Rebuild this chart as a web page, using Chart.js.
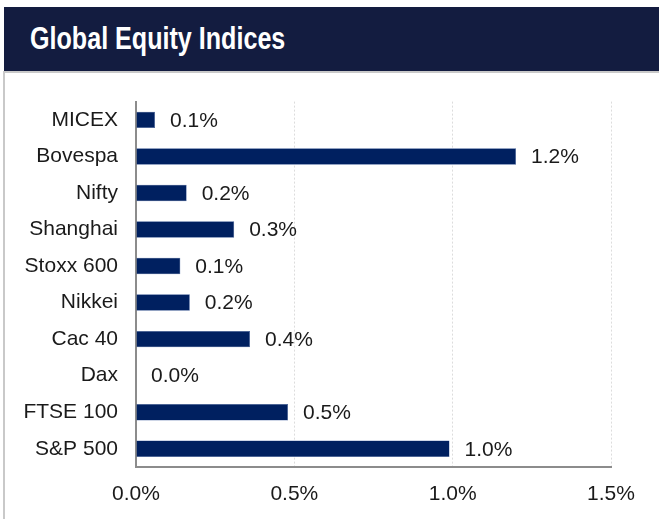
<!DOCTYPE html>
<html>
<head>
<meta charset="utf-8">
<script src="https://cdn.jsdelivr.net/npm/chart.js@4.4.1/dist/chart.umd.min.js"></script>
<style>
    body { margin: 0; background: #fff; font-family: 'Liberation Sans', Arial, sans-serif; }
    #header {
        position: absolute; left: 4px; top: 7px; width: 655px; height: 64px;
        background: #131c40;
    }
    #header span {
        position: absolute; left: 26px; top: 15px;
        color: #fff; font-weight: bold; font-size: 31px; line-height: 34px;
        transform: scaleX(0.81); transform-origin: left top; white-space: nowrap;
    }
    #frame {
        position: absolute; left: 3px; top: 71px; width: 656px; height: 448px;
        border-left: 2px solid #c9c9c9; border-top: 2px solid #c9c9c9; box-sizing: border-box;
    }
    #wrap { position: absolute; left: 0; top: 71px; width: 659px; height: 448px; }
</style>
</head>
<body>
<div id="header"><span>Global Equity Indices</span></div>
<div id="frame"></div>
<div id="wrap"><canvas id="chart"></canvas></div>
<script>
const indices = ['MICEX', 'Bovespa', 'Nifty', 'Shanghai', 'Stoxx 600', 'Nikkei', 'Cac 40', 'Dax', 'FTSE 100', 'S&P 500'];
const changes = [0.06, 1.2, 0.16, 0.31, 0.14, 0.17, 0.36, 0.0, 0.48, 0.99];
const xTicks = [0, 0.5, 1.0, 1.5];

const fontFamily = "'Liberation Sans', Arial, sans-serif";

// value labels to the right of each bar
const barLabels = {
    id: 'barLabels',
    afterDatasetsDraw(chart) {
        const ctx = chart.ctx;
        const meta = chart.getDatasetMeta(0);
        ctx.save();
        ctx.font = '21px ' + fontFamily;
        ctx.fillStyle = '#1a1a1a';
        ctx.textAlign = 'left';
        ctx.textBaseline = 'middle';
        meta.data.forEach(function (bar, i) {
            ctx.fillText(changes[i].toFixed(1) + '%', bar.x + 15, bar.y + 1);
        });
        ctx.restore();
    }
};

new Chart(document.getElementById('chart'), {
    type: 'bar',
    data: {
        labels: indices,
        datasets: [{
            data: changes,
            backgroundColor: '#002060',
            borderColor: '#3a5a9a',
            borderWidth: 0.5,
            categoryPercentage: 1,
            barPercentage: 0.45
        }]
    },
    options: {
        indexAxis: 'y',
        responsive: true,
        maintainAspectRatio: false,
        animation: false,
        layout: { padding: { left: 0, right: 48, top: 29, bottom: 0 } },
        plugins: {
            legend: { display: false },
            tooltip: { enabled: false }
        },
        scales: {
            x: {
                min: 0,
                max: 1.5,
                afterBuildTicks: function (scale) {
                    scale.ticks = xTicks.map(function (v) { return { value: v }; });
                },
                afterFit: function (scale) { scale.height = 52; },
                grid: {
                    color: function (c) { return c.index === 0 ? 'rgba(0,0,0,0)' : '#dcdcdc'; },
                    lineWidth: 1,
                    drawTicks: false
                },
                border: { color: '#8c8c8c', width: 2, dash: [2, 2] },
                ticks: {
                    padding: 15,
                    color: '#1a1a1a',
                    font: { family: fontFamily, size: 21 },
                    callback: function (value) { return value.toFixed(1) + '%'; }
                }
            },
            y: {
                afterFit: function (scale) { scale.width = 136; },
                grid: { display: false, drawTicks: false },
                border: { color: '#8c8c8c', width: 2 },
                ticks: {
                    padding: 18,
                    color: '#1a1a1a',
                    font: { family: fontFamily, size: 21 }
                }
            }
        }
    },
    plugins: [barLabels]
});
</script>
</body>
</html>
